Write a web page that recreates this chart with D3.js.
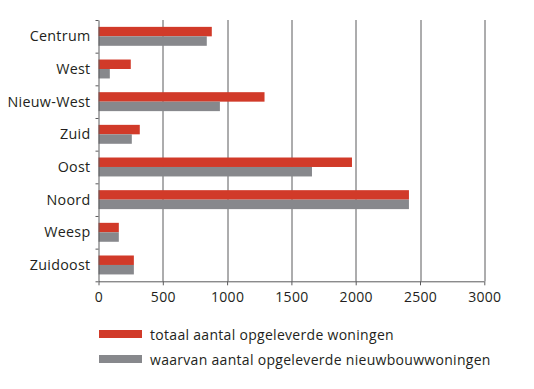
<!DOCTYPE html>
<meta charset="utf-8">
<style>
    body { margin: 0; background: #fff; }
    text {
        font-family: "Open Sans", Lato, sans-serif;
        fill: #231f20;
        letter-spacing: 0.3px;
    }
    .grid line { stroke: #5a5a5c; stroke-width: 1px; }
    .axis path, .axis line { stroke: #5a5a5c; }
</style>
<body>
    <svg width="534" height="389"></svg>
</body>
<script src="https://d3js.org/d3.v7.min.js"></script>
<script>
    // data
    var stadsdelen = ["Centrum", "West", "Nieuw-West", "Zuid", "Oost", "Noord", "Weesp", "Zuidoost"];
    var totaal = [881, 251, 1291, 321, 1971, 2414, 158, 275];
    var nieuwbouw = [842, 88, 944, 259, 1660, 2414, 158, 275];
    var seriesNames = ["totaal aantal opgeleverde woningen", "waarvan aantal opgeleverde nieuwbouwwoningen"];
    var xTicks = [0, 500, 1000, 1500, 2000, 2500, 3000];
    var colors = ["#d13a29", "#87888c"];

    var svg = d3.select("svg"),
        margin = {top: 20, left: 98.5},
        plotW = 385.8,
        plotH = 261.3;

    var g = svg.append("g").attr("transform", "translate(" + margin.left + "," + margin.top + ")");

    var x = d3.scaleLinear().domain([0, 3000]).range([0, plotW]);
    var y = d3.scaleBand().domain(stadsdelen).range([0, plotH]).paddingInner(0.42).paddingOuter(0.21);
    var sub = d3.scaleBand().domain([0, 1]).range([0, y.bandwidth()]);

    // grid lines
    g.append("g").attr("class", "grid")
        .selectAll("line")
        .data(xTicks.slice(1))
        .enter().append("line")
        .attr("x1", function (d) { return Math.round(x(d)) + 0.5; })
        .attr("x2", function (d) { return Math.round(x(d)) + 0.5; })
        .attr("y1", 0)
        .attr("y2", plotH);

    // bars
    var rows = stadsdelen.map(function (s, i) { return {name: s, vals: [totaal[i], nieuwbouw[i]]}; });
    var rowG = g.selectAll(".row")
        .data(rows)
        .enter().append("g")
        .attr("transform", function (d) { return "translate(0," + y(d.name) + ")"; });

    rowG.selectAll("rect")
        .data(function (d) { return d.vals; })
        .enter().append("rect")
        .attr("x", 0)
        .attr("y", function (d, i) { return sub(i); })
        .attr("height", sub.bandwidth())
        .attr("width", function (d) { return x(d); })
        .style("fill", function (d, i) { return colors[i]; });

    // axes
    var yAxisScale = d3.scalePoint().domain(d3.range(stadsdelen.length + 1)).range([0, plotH]);
    g.append("g").attr("class", "axis")
        .call(d3.axisLeft(yAxisScale).tickSize(3).tickSizeOuter(0).tickFormat(""));

    g.selectAll(".ylabel")
        .data(stadsdelen)
        .enter().append("text")
        .attr("class", "ylabel")
        .attr("x", -8)
        .attr("y", function (d) { return y(d) + y.bandwidth() / 2; })
        .attr("dy", "0.35em")
        .style("text-anchor", "end")
        .style("font-size", "14.3px")
        .text(function (d) { return d; });

    var xAxis = g.append("g").attr("class", "axis")
        .attr("transform", "translate(0," + plotH + ")")
        .call(d3.axisBottom(x).tickValues(xTicks).tickSize(4).tickSizeOuter(0).tickFormat(d3.format("d")));
    xAxis.selectAll("text")
        .style("font-size", "14px")
        .style("font-family", "'Open Sans', sans-serif")
        .style("fill", "#231f20")
        .attr("dy", "0.95em");
    xAxis.select(".domain").attr("d", "M0.5,0.5H" + plotW);

    // legend
    var legend = svg.append("g").attr("transform", "translate(99,330)");
    var item = legend.selectAll("g")
        .data(seriesNames)
        .enter().append("g")
        .attr("transform", function (d, i) { return "translate(0," + i * 25 + ")"; });
    item.append("rect")
        .attr("width", 43)
        .attr("height", 8)
        .style("fill", function (d, i) { return colors[i]; });
    item.append("text")
        .attr("x", 51)
        .attr("y", 8)
        .attr("dy", "0.15em")
        .style("font-size", "14px")
        .text(function (d) { return d; });
</script>
